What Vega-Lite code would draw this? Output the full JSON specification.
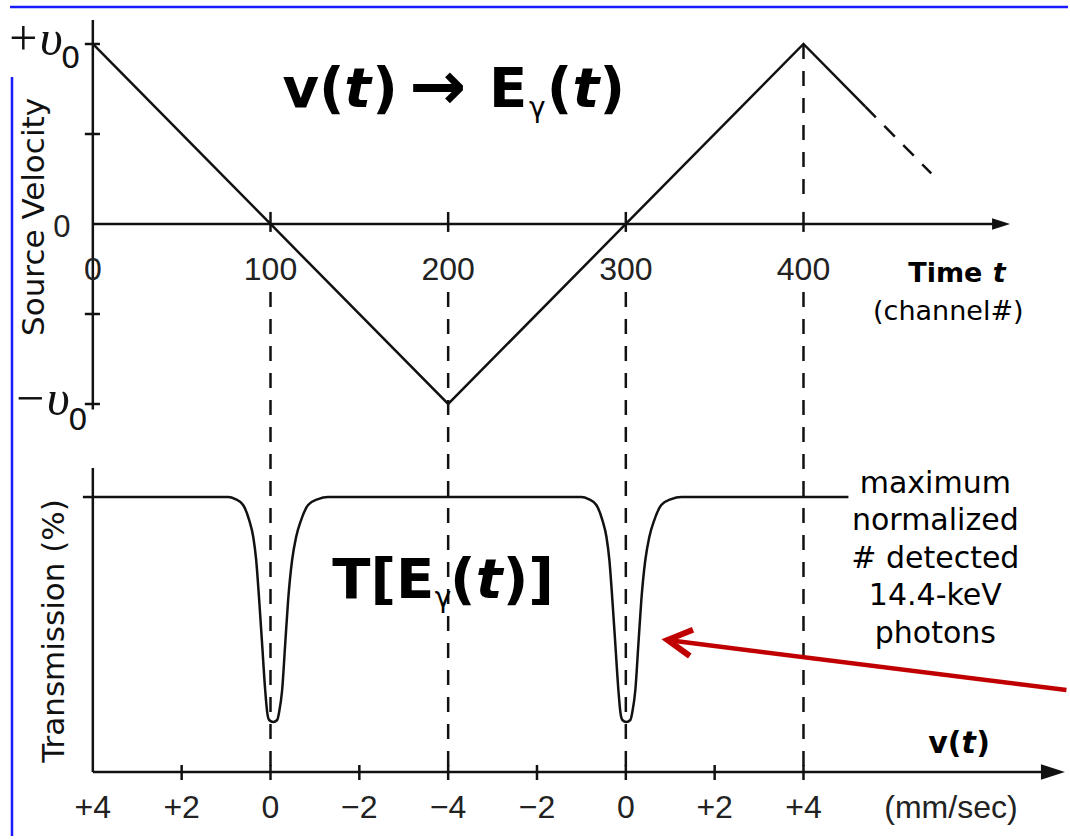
{
"$schema": "https://vega.github.io/schema/vega-lite/v6.json",
"width": 1070, "height": 840,
"autosize": {"type": "fit", "contains": "padding"},
"padding": 0,
"background": "#ffffff",
"config": {"view": {"stroke": null}, "axis": {"grid": false}},
"datasets": {
 "velocity": [{"channel":0,"velocity":1},{"channel":100,"velocity":0},{"channel":200,"velocity":-1},{"channel":300,"velocity":0},{"channel":400,"velocity":1},{"channel":434.8,"velocity":0.652}],
 "velocityDashed": [{"channel":434.8,"velocity":0.652},{"channel":471.9,"velocity":0.281}],
 "velocityTicks": [{"velocity":1},{"velocity":0.5},{"velocity":-0.5},{"velocity":-1}],
 "channelMarks": [{"channel":100},{"channel":200},{"channel":300},{"channel":400}],
 "channelLabels": [{"channel":0,"label":"0"},{"channel":100,"label":"100"},{"channel":200,"label":"200"},{"channel":300,"label":"300"},{"channel":400,"label":"400"}],
 "speedMarks": [{"channel":50},{"channel":100},{"channel":150},{"channel":200},{"channel":250},{"channel":300},{"channel":350},{"channel":400}],
 "speedLabels": [{"channel":0,"label":"+4"},{"channel":50,"label":"+2"},{"channel":100,"label":"0"},{"channel":150,"label":"−2"},{"channel":200,"label":"−4"},{"channel":250,"label":"−2"},{"channel":300,"label":"0"},{"channel":350,"label":"+2"},{"channel":400,"label":"+4"}],
 "transmission": [
  {"channel":0,"transmission":100},{"channel":76.2,"transmission":100},{"channel":80.2,"transmission":99.73},{"channel":84.6,"transmission":98.93},{"channel":88.0,"transmission":96.93},{"channel":90.3,"transmission":94.67},{"channel":91.95,"transmission":91.6},{"channel":93.63,"transmission":86.27},{"channel":95.32,"transmission":80.27},{"channel":97.01,"transmission":74.27},{"channel":98.13,"transmission":71.33},{"channel":99.25,"transmission":70.27},{"channel":101.5,"transmission":70.0},{"channel":103.75,"transmission":70.27},{"channel":104.87,"transmission":71.33},{"channel":106.56,"transmission":74.27},{"channel":108.24,"transmission":80.27},{"channel":109.93,"transmission":86.27},{"channel":112.17,"transmission":91.6},{"channel":114.42,"transmission":94.67},{"channel":117.23,"transmission":96.93},{"channel":121.16,"transmission":98.93},{"channel":126.8,"transmission":99.73},{"channel":132.4,"transmission":100},
  {"channel":200,"transmission":100},
  {"channel":275.0,"transmission":100},{"channel":279.0,"transmission":99.73},{"channel":283.4,"transmission":98.93},{"channel":286.8,"transmission":96.93},{"channel":289.1,"transmission":94.67},{"channel":290.75,"transmission":91.6},{"channel":292.43,"transmission":86.27},{"channel":294.12,"transmission":80.27},{"channel":295.81,"transmission":74.27},{"channel":296.93,"transmission":71.33},{"channel":298.05,"transmission":70.27},{"channel":300.3,"transmission":70.0},{"channel":302.55,"transmission":70.27},{"channel":303.67,"transmission":71.33},{"channel":305.36,"transmission":74.27},{"channel":307.04,"transmission":80.27},{"channel":308.73,"transmission":86.27},{"channel":310.97,"transmission":91.6},{"channel":313.22,"transmission":94.67},{"channel":316.03,"transmission":96.93},{"channel":319.96,"transmission":98.93},{"channel":325.6,"transmission":99.73},{"channel":331.2,"transmission":100},
  {"channel":425.3,"transmission":100}
 ]
},
"layer": [
 {
  "layer": [
   {"data":{"values":[{}]},"mark":{"type":"rule","stroke":"#1a1aff","strokeWidth":2.5},
    "encoding":{"x":{"datum":-46.6,"type":"quantitative","scale":{"domain":[-52.25,548.88],"nice":false,"zero":false},"axis":null},"x2":{"datum":548.88},
     "y":{"datum":1.2056,"type":"quantitative","scale":{"domain":[-3.4222,1.2444],"nice":false,"zero":false},"axis":null}}},
   {"data":{"values":[{}]},"mark":{"type":"rule","stroke":"#1a1aff","strokeWidth":2.5},
    "encoding":{"x":{"datum":-45.5,"type":"quantitative","scale":{"domain":[-52.25,548.88],"nice":false,"zero":false},"axis":null},
     "y":{"datum":0.8167,"type":"quantitative","scale":{"domain":[-3.4222,1.2444],"nice":false,"zero":false},"axis":null},"y2":{"datum":-3.40}}},
   {"data":{"values":[{}]},"mark":{"type":"rule","stroke":"#111","strokeWidth":2.5},
    "encoding":{"x":{"datum":0,"type":"quantitative","scale":{"domain":[-52.25,548.88],"nice":false,"zero":false},"axis":null},
     "y":{"datum":1.133,"type":"quantitative","scale":{"domain":[-3.4222,1.2444],"nice":false,"zero":false},"axis":null},"y2":{"datum":-1.03}}},
   {"data":{"values":[{}]},"mark":{"type":"rule","stroke":"#111","strokeWidth":2.5},
    "encoding":{"x":{"datum":0,"type":"quantitative","scale":{"domain":[-52.25,548.88],"nice":false,"zero":false},"axis":null},"x2":{"datum":511},
     "y":{"datum":0,"type":"quantitative","scale":{"domain":[-3.4222,1.2444],"nice":false,"zero":false},"axis":null}}},
   {"data":{"values":[{}]},"mark":{"type":"point","shape":"M-1,-0.65L1,0L-1,0.65Z","filled":true,"fill":"#111","size":324,"opacity":1,"strokeWidth":0},
    "encoding":{"x":{"datum":511.2,"type":"quantitative","scale":{"domain":[-52.25,548.88],"nice":false,"zero":false},"axis":null},
     "y":{"datum":0,"type":"quantitative","scale":{"domain":[-3.4222,1.2444],"nice":false,"zero":false},"axis":null}}},
   {"data":{"name":"velocityTicks"},"mark":{"type":"rule","stroke":"#111","strokeWidth":2.5},
    "encoding":{"x":{"datum":-4.5,"type":"quantitative","scale":{"domain":[-52.25,548.88],"nice":false,"zero":false},"axis":null},"x2":{"datum":4},
     "y":{"field":"velocity","type":"quantitative","scale":{"domain":[-3.4222,1.2444],"nice":false,"zero":false},"axis":null}}},
   {"data":{"name":"channelMarks"},"mark":{"type":"rule","stroke":"#111","strokeWidth":2.5},
    "encoding":{"x":{"field":"channel","type":"quantitative","scale":{"domain":[-52.25,548.88],"nice":false,"zero":false},"axis":null},
     "y":{"datum":0.067,"type":"quantitative","scale":{"domain":[-3.4222,1.2444],"nice":false,"zero":false},"axis":null},"y2":{"datum":-0.044}}},
   {"data":{"name":"channelMarks"},"mark":{"type":"rule","stroke":"#111","strokeWidth":2.5,"strokeDash":[15,12]},
    "encoding":{"x":{"field":"channel","type":"quantitative","scale":{"domain":[-52.25,548.88],"nice":false,"zero":false},"axis":null},
     "y":{"datum":-0.378,"type":"quantitative","scale":{"domain":[-3.4222,1.2444],"nice":false,"zero":false},"axis":null},"y2":{"datum":-3.044}}},
   {"data":{"values":[{}]},"mark":{"type":"rule","stroke":"#111","strokeWidth":2.5,"strokeDash":[15,12]},
    "encoding":{"x":{"datum":400,"type":"quantitative","scale":{"domain":[-52.25,548.88],"nice":false,"zero":false},"axis":null},
     "y":{"datum":1.0,"type":"quantitative","scale":{"domain":[-3.4222,1.2444],"nice":false,"zero":false},"axis":null},"y2":{"datum":0.15}}},
   {"data":{"name":"velocity"},"mark":{"type":"line","stroke":"#111","strokeWidth":2.5,"strokeJoin":"miter"},
    "encoding":{"x":{"field":"channel","type":"quantitative","scale":{"domain":[-52.25,548.88],"nice":false,"zero":false},"axis":null},
     "y":{"field":"velocity","type":"quantitative","scale":{"domain":[-3.4222,1.2444],"nice":false,"zero":false},"axis":null}}},
   {"data":{"name":"velocityDashed"},"mark":{"type":"line","stroke":"#111","strokeWidth":2.5,"strokeDash":[15,12]},
    "encoding":{"x":{"field":"channel","type":"quantitative","scale":{"domain":[-52.25,548.88],"nice":false,"zero":false},"axis":null},
     "y":{"field":"velocity","type":"quantitative","scale":{"domain":[-3.4222,1.2444],"nice":false,"zero":false},"axis":null}}},
   {"data":{"name":"channelLabels"},"mark":{"type":"text","font":"Liberation Sans","fontSize":32,"align":"center","baseline":"middle","color":"#222"},
    "encoding":{"x":{"field":"channel","type":"quantitative","scale":{"domain":[-52.25,548.88],"nice":false,"zero":false},"axis":null},
     "y":{"datum":-0.256,"type":"quantitative","scale":{"domain":[-3.4222,1.2444],"nice":false,"zero":false},"axis":null},
     "text":{"field":"label"}}},
   {"data":{"name":"speedLabels"},"mark":{"type":"text","font":"Liberation Sans","fontSize":32,"align":"center","baseline":"middle","color":"#222"},
    "encoding":{"x":{"field":"channel","type":"quantitative","scale":{"domain":[-52.25,548.88],"nice":false,"zero":false},"axis":null},
     "y":{"datum":-3.244,"type":"quantitative","scale":{"domain":[-3.4222,1.2444],"nice":false,"zero":false},"axis":null},
     "text":{"field":"label"}}},
   {"data":{"values":[{}]},"mark":{"type":"text","text":"(mm/sec)","font":"Liberation Sans","fontSize":32,"align":"center","baseline":"middle","color":"#222"},
    "encoding":{"x":{"datum":483,"type":"quantitative","scale":{"domain":[-52.25,548.88],"nice":false,"zero":false},"axis":null},
     "y":{"datum":-3.244,"type":"quantitative","scale":{"domain":[-3.4222,1.2444],"nice":false,"zero":false},"axis":null}}},
   {"data":{"values":[{}]},"mark":{"type":"text","text":"0","font":"Liberation Sans","fontSize":31,"align":"center","baseline":"middle","color":"#222"},
    "encoding":{"x":{"datum":-17.4,"type":"quantitative","scale":{"domain":[-52.25,548.88],"nice":false,"zero":false},"axis":null},
     "y":{"datum":-0.022,"type":"quantitative","scale":{"domain":[-3.4222,1.2444],"nice":false,"zero":false},"axis":null}}},
   {"data":{"values":[{}]},"mark":{"type":"text","text":"Source Velocity","font":"DejaVu Sans","fontSize":31,"angle":270,"align":"center","baseline":"middle","color":"#111"},
    "encoding":{"x":{"datum":-32.6,"type":"quantitative","scale":{"domain":[-52.25,548.88],"nice":false,"zero":false},"axis":null},
     "y":{"datum":0.039,"type":"quantitative","scale":{"domain":[-3.4222,1.2444],"nice":false,"zero":false},"axis":null}}},
   {"data":{"values":[{}]},"mark":{"type":"text","text":"Transmission (%)","font":"DejaVu Sans","fontSize":31,"angle":270,"align":"center","baseline":"middle","color":"#111"},
    "encoding":{"x":{"datum":-21.35,"type":"quantitative","scale":{"domain":[-52.25,548.88],"nice":false,"zero":false},"axis":null},
     "y":{"datum":-2.261,"type":"quantitative","scale":{"domain":[-3.4222,1.2444],"nice":false,"zero":false},"axis":null}}},
   {"data":{"values":[{}]},"mark":{"type":"text","text":"+υ","font":"Liberation Serif","fontStyle":"italic","fontSize":50,"align":"left","baseline":"alphabetic","color":"#111"},
    "encoding":{"x":{"datum":-48.9,"type":"quantitative","scale":{"domain":[-52.25,548.88],"nice":false,"zero":false},"axis":null},
     "y":{"datum":0.939,"type":"quantitative","scale":{"domain":[-3.4222,1.2444],"nice":false,"zero":false},"axis":null}}},
   {"data":{"values":[{}]},"mark":{"type":"text","text":"0","font":"DejaVu Sans","fontSize":31,"align":"left","baseline":"alphabetic","color":"#111"},
    "encoding":{"x":{"datum":-18.0,"type":"quantitative","scale":{"domain":[-52.25,548.88],"nice":false,"zero":false},"axis":null},
     "y":{"datum":0.867,"type":"quantitative","scale":{"domain":[-3.4222,1.2444],"nice":false,"zero":false},"axis":null}}},
   {"data":{"values":[{}]},"mark":{"type":"text","text":"−υ","font":"Liberation Serif","fontStyle":"italic","fontSize":50,"align":"left","baseline":"alphabetic","color":"#111"},
    "encoding":{"x":{"datum":-44.9,"type":"quantitative","scale":{"domain":[-52.25,548.88],"nice":false,"zero":false},"axis":null},
     "y":{"datum":-1.061,"type":"quantitative","scale":{"domain":[-3.4222,1.2444],"nice":false,"zero":false},"axis":null}}},
   {"data":{"values":[{}]},"mark":{"type":"text","text":"0","font":"DejaVu Sans","fontSize":31,"align":"left","baseline":"alphabetic","color":"#111"},
    "encoding":{"x":{"datum":-14.0,"type":"quantitative","scale":{"domain":[-52.25,548.88],"nice":false,"zero":false},"axis":null},
     "y":{"datum":-1.144,"type":"quantitative","scale":{"domain":[-3.4222,1.2444],"nice":false,"zero":false},"axis":null}}},
   {"data":{"values":[{}]},"mark":{"type":"text","text":"v(","font":"DejaVu Sans","fontWeight":"bold","fontSize":56,"align":"left","baseline":"alphabetic","color":"#000"},
    "encoding":{"x":{"datum":106.7,"type":"quantitative","scale":{"domain":[-52.25,548.88],"nice":false,"zero":false},"axis":null},
     "y":{"datum":0.65,"type":"quantitative","scale":{"domain":[-3.4222,1.2444],"nice":false,"zero":false},"axis":null}}},
   {"data":{"values":[{}]},"mark":{"type":"text","text":"t","font":"DejaVu Sans","fontWeight":"bold","fontStyle":"italic","fontSize":56,"align":"left","baseline":"alphabetic","color":"#000"},
    "encoding":{"x":{"datum":141.5,"type":"quantitative","scale":{"domain":[-52.25,548.88],"nice":false,"zero":false},"axis":null},
     "y":{"datum":0.65,"type":"quantitative","scale":{"domain":[-3.4222,1.2444],"nice":false,"zero":false},"axis":null}}},
   {"data":{"values":[{}]},"mark":{"type":"text","text":")","font":"DejaVu Sans","fontWeight":"bold","fontSize":56,"align":"left","baseline":"alphabetic","color":"#000"},
    "encoding":{"x":{"datum":157.3,"type":"quantitative","scale":{"domain":[-52.25,548.88],"nice":false,"zero":false},"axis":null},
     "y":{"datum":0.65,"type":"quantitative","scale":{"domain":[-3.4222,1.2444],"nice":false,"zero":false},"axis":null}}},
   {"data":{"values":[{}]},"mark":{"type":"text","text":"→","font":"DejaVu Sans","fontWeight":"bold","fontSize":68,"align":"left","baseline":"alphabetic","color":"#000"},
    "encoding":{"x":{"datum":178.1,"type":"quantitative","scale":{"domain":[-52.25,548.88],"nice":false,"zero":false},"axis":null},
     "y":{"datum":0.64,"type":"quantitative","scale":{"domain":[-3.4222,1.2444],"nice":false,"zero":false},"axis":null}}},
   {"data":{"values":[{}]},"mark":{"type":"text","text":"E","font":"DejaVu Sans","fontWeight":"bold","fontSize":56,"align":"left","baseline":"alphabetic","color":"#000"},
    "encoding":{"x":{"datum":223.0,"type":"quantitative","scale":{"domain":[-52.25,548.88],"nice":false,"zero":false},"axis":null},
     "y":{"datum":0.65,"type":"quantitative","scale":{"domain":[-3.4222,1.2444],"nice":false,"zero":false},"axis":null}}},
   {"data":{"values":[{}]},"mark":{"type":"text","text":"γ","font":"DejaVu Sans","fontSize":28,"align":"left","baseline":"alphabetic","color":"#000"},
    "encoding":{"x":{"datum":245.5,"type":"quantitative","scale":{"domain":[-52.25,548.88],"nice":false,"zero":false},"axis":null},
     "y":{"datum":0.594,"type":"quantitative","scale":{"domain":[-3.4222,1.2444],"nice":false,"zero":false},"axis":null}}},
   {"data":{"values":[{}]},"mark":{"type":"text","text":"(","font":"DejaVu Sans","fontWeight":"bold","fontSize":56,"align":"left","baseline":"alphabetic","color":"#000"},
    "encoding":{"x":{"datum":255.5,"type":"quantitative","scale":{"domain":[-52.25,548.88],"nice":false,"zero":false},"axis":null},
     "y":{"datum":0.65,"type":"quantitative","scale":{"domain":[-3.4222,1.2444],"nice":false,"zero":false},"axis":null}}},
   {"data":{"values":[{}]},"mark":{"type":"text","text":"t","font":"DejaVu Sans","fontWeight":"bold","fontStyle":"italic","fontSize":56,"align":"left","baseline":"alphabetic","color":"#000"},
    "encoding":{"x":{"datum":270.0,"type":"quantitative","scale":{"domain":[-52.25,548.88],"nice":false,"zero":false},"axis":null},
     "y":{"datum":0.65,"type":"quantitative","scale":{"domain":[-3.4222,1.2444],"nice":false,"zero":false},"axis":null}}},
   {"data":{"values":[{}]},"mark":{"type":"text","text":")","font":"DejaVu Sans","fontWeight":"bold","fontSize":56,"align":"left","baseline":"alphabetic","color":"#000"},
    "encoding":{"x":{"datum":285.2,"type":"quantitative","scale":{"domain":[-52.25,548.88],"nice":false,"zero":false},"axis":null},
     "y":{"datum":0.65,"type":"quantitative","scale":{"domain":[-3.4222,1.2444],"nice":false,"zero":false},"axis":null}}},
   {"data":{"values":[{}]},"mark":{"type":"text","text":"T[E","font":"DejaVu Sans","fontWeight":"bold","fontSize":56,"align":"left","baseline":"alphabetic","color":"#000"},
    "encoding":{"x":{"datum":134.8,"type":"quantitative","scale":{"domain":[-52.25,548.88],"nice":false,"zero":false},"axis":null},
     "y":{"datum":-2.078,"type":"quantitative","scale":{"domain":[-3.4222,1.2444],"nice":false,"zero":false},"axis":null}}},
   {"data":{"values":[{}]},"mark":{"type":"text","text":"γ","font":"DejaVu Sans","fontSize":28,"align":"left","baseline":"alphabetic","color":"#000"},
    "encoding":{"x":{"datum":192.5,"type":"quantitative","scale":{"domain":[-52.25,548.88],"nice":false,"zero":false},"axis":null},
     "y":{"datum":-2.128,"type":"quantitative","scale":{"domain":[-3.4222,1.2444],"nice":false,"zero":false},"axis":null}}},
   {"data":{"values":[{}]},"mark":{"type":"text","text":"(","font":"DejaVu Sans","fontWeight":"bold","fontSize":56,"align":"left","baseline":"alphabetic","color":"#000"},
    "encoding":{"x":{"datum":201.0,"type":"quantitative","scale":{"domain":[-52.25,548.88],"nice":false,"zero":false},"axis":null},
     "y":{"datum":-2.078,"type":"quantitative","scale":{"domain":[-3.4222,1.2444],"nice":false,"zero":false},"axis":null}}},
   {"data":{"values":[{}]},"mark":{"type":"text","text":"t","font":"DejaVu Sans","fontWeight":"bold","fontStyle":"italic","fontSize":56,"align":"left","baseline":"alphabetic","color":"#000"},
    "encoding":{"x":{"datum":215.5,"type":"quantitative","scale":{"domain":[-52.25,548.88],"nice":false,"zero":false},"axis":null},
     "y":{"datum":-2.078,"type":"quantitative","scale":{"domain":[-3.4222,1.2444],"nice":false,"zero":false},"axis":null}}},
   {"data":{"values":[{}]},"mark":{"type":"text","text":")]","font":"DejaVu Sans","fontWeight":"bold","fontSize":56,"align":"left","baseline":"alphabetic","color":"#000"},
    "encoding":{"x":{"datum":230.7,"type":"quantitative","scale":{"domain":[-52.25,548.88],"nice":false,"zero":false},"axis":null},
     "y":{"datum":-2.078,"type":"quantitative","scale":{"domain":[-3.4222,1.2444],"nice":false,"zero":false},"axis":null}}},
   {"data":{"values":[{}]},"mark":{"type":"text","text":"Time ","font":"DejaVu Sans","fontWeight":"bold","fontSize":27,"align":"left","baseline":"alphabetic","color":"#000"},
    "encoding":{"x":{"datum":459,"type":"quantitative","scale":{"domain":[-52.25,548.88],"nice":false,"zero":false},"axis":null},
     "y":{"datum":-0.322,"type":"quantitative","scale":{"domain":[-3.4222,1.2444],"nice":false,"zero":false},"axis":null}}},
   {"data":{"values":[{}]},"mark":{"type":"text","text":"t","font":"DejaVu Sans","fontWeight":"bold","fontStyle":"italic","fontSize":27,"align":"left","baseline":"alphabetic","color":"#000"},
    "encoding":{"x":{"datum":506.5,"type":"quantitative","scale":{"domain":[-52.25,548.88],"nice":false,"zero":false},"axis":null},
     "y":{"datum":-0.322,"type":"quantitative","scale":{"domain":[-3.4222,1.2444],"nice":false,"zero":false},"axis":null}}},
   {"data":{"values":[{}]},"mark":{"type":"text","text":"(channel#)","font":"DejaVu Sans","fontSize":27,"align":"center","baseline":"middle","color":"#000"},
    "encoding":{"x":{"datum":481.5,"type":"quantitative","scale":{"domain":[-52.25,548.88],"nice":false,"zero":false},"axis":null},
     "y":{"datum":-0.489,"type":"quantitative","scale":{"domain":[-3.4222,1.2444],"nice":false,"zero":false},"axis":null}}},
   {"data":{"values":[{}]},"mark":{"type":"text","text":["maximum","normalized","# detected","14.4-keV","photons"],"font":"DejaVu Sans","fontSize":30,"lineHeight":37.5,"align":"center","baseline":"top","color":"#000"},
    "encoding":{"x":{"datum":474.2,"type":"quantitative","scale":{"domain":[-52.25,548.88],"nice":false,"zero":false},"axis":null},
     "y":{"datum":-1.361,"type":"quantitative","scale":{"domain":[-3.4222,1.2444],"nice":false,"zero":false},"axis":null}}},
   {"data":{"values":[{}]},"mark":{"type":"text","text":"v(","font":"DejaVu Sans","fontWeight":"bold","fontSize":30,"align":"left","baseline":"alphabetic","color":"#000"},
    "encoding":{"x":{"datum":470.2,"type":"quantitative","scale":{"domain":[-52.25,548.88],"nice":false,"zero":false},"axis":null},
     "y":{"datum":-2.939,"type":"quantitative","scale":{"domain":[-3.4222,1.2444],"nice":false,"zero":false},"axis":null}}},
   {"data":{"values":[{}]},"mark":{"type":"text","text":"t","font":"DejaVu Sans","fontWeight":"bold","fontStyle":"italic","fontSize":30,"align":"left","baseline":"alphabetic","color":"#000"},
    "encoding":{"x":{"datum":489.0,"type":"quantitative","scale":{"domain":[-52.25,548.88],"nice":false,"zero":false},"axis":null},
     "y":{"datum":-2.939,"type":"quantitative","scale":{"domain":[-3.4222,1.2444],"nice":false,"zero":false},"axis":null}}},
   {"data":{"values":[{}]},"mark":{"type":"text","text":")","font":"DejaVu Sans","fontWeight":"bold","fontSize":30,"align":"left","baseline":"alphabetic","color":"#000"},
    "encoding":{"x":{"datum":497.2,"type":"quantitative","scale":{"domain":[-52.25,548.88],"nice":false,"zero":false},"axis":null},
     "y":{"datum":-2.939,"type":"quantitative","scale":{"domain":[-3.4222,1.2444],"nice":false,"zero":false},"axis":null}}},
   {"data":{"values":[{}]},"mark":{"type":"rule","stroke":"#c00000","strokeWidth":4.5},
    "encoding":{"x":{"datum":548,"type":"quantitative","scale":{"domain":[-52.25,548.88],"nice":false,"zero":false},"axis":null},"x2":{"datum":324.5},
     "y":{"datum":-2.589,"type":"quantitative","scale":{"domain":[-3.4222,1.2444],"nice":false,"zero":false},"axis":null},"y2":{"datum":-2.313}}},
   {"data":{"values":[{}]},"mark":{"type":"point","shape":"M1,-0.55L0,0L1,0.55","filled":false,"stroke":"#c00000","strokeWidth":6,"strokeJoin":"miter","size":2304,"angle":7,"opacity":1},
    "encoding":{"x":{"datum":323.5,"type":"quantitative","scale":{"domain":[-52.25,548.88],"nice":false,"zero":false},"axis":null},
     "y":{"datum":-2.311,"type":"quantitative","scale":{"domain":[-3.4222,1.2444],"nice":false,"zero":false},"axis":null}}}
  ]
 },
 {
  "layer": [
   {"data":{"values":[{}]},"mark":{"type":"rule","stroke":"#111","strokeWidth":2.5},
    "encoding":{"x":{"datum":0,"type":"quantitative","scale":{"domain":[-52.25,548.88],"nice":false,"zero":false},"axis":null},
     "y":{"datum":63.33,"type":"quantitative","scale":{"domain":[54.27,166.27],"nice":false,"zero":false},"axis":null},"y2":{"datum":103.87}}},
   {"data":{"values":[{}]},"mark":{"type":"rule","stroke":"#111","strokeWidth":2.5},
    "encoding":{"x":{"datum":0,"type":"quantitative","scale":{"domain":[-52.25,548.88],"nice":false,"zero":false},"axis":null},"x2":{"datum":538},
     "y":{"datum":63.33,"type":"quantitative","scale":{"domain":[54.27,166.27],"nice":false,"zero":false},"axis":null}}},
   {"data":{"values":[{}]},"mark":{"type":"point","shape":"M-1,-0.65L1,0L-1,0.65Z","filled":true,"fill":"#111","size":576,"opacity":1,"strokeWidth":0},
    "encoding":{"x":{"datum":540.4,"type":"quantitative","scale":{"domain":[-52.25,548.88],"nice":false,"zero":false},"axis":null},
     "y":{"datum":63.33,"type":"quantitative","scale":{"domain":[54.27,166.27],"nice":false,"zero":false},"axis":null}}},
   {"data":{"name":"speedMarks"},"mark":{"type":"rule","stroke":"#111","strokeWidth":2.5},
    "encoding":{"x":{"field":"channel","type":"quantitative","scale":{"domain":[-52.25,548.88],"nice":false,"zero":false},"axis":null},
     "y":{"datum":64.27,"type":"quantitative","scale":{"domain":[54.27,166.27],"nice":false,"zero":false},"axis":null},"y2":{"datum":62.27}}},
   {"data":{"values":[{}]},"mark":{"type":"rule","stroke":"#111","strokeWidth":2.5},
    "encoding":{"x":{"datum":-5.6,"type":"quantitative","scale":{"domain":[-52.25,548.88],"nice":false,"zero":false},"axis":null},"x2":{"datum":0},
     "y":{"datum":100,"type":"quantitative","scale":{"domain":[54.27,166.27],"nice":false,"zero":false},"axis":null}}},
   {"data":{"name":"transmission"},"mark":{"type":"line","stroke":"#111","strokeWidth":2.5,"interpolate":"monotone"},
    "encoding":{"x":{"field":"channel","type":"quantitative","scale":{"domain":[-52.25,548.88],"nice":false,"zero":false},"axis":null},
     "y":{"field":"transmission","type":"quantitative","scale":{"domain":[54.27,166.27],"nice":false,"zero":false},"axis":null}}}
  ]
 }
],
"resolve": {"scale": {"y": "independent"}}
}
